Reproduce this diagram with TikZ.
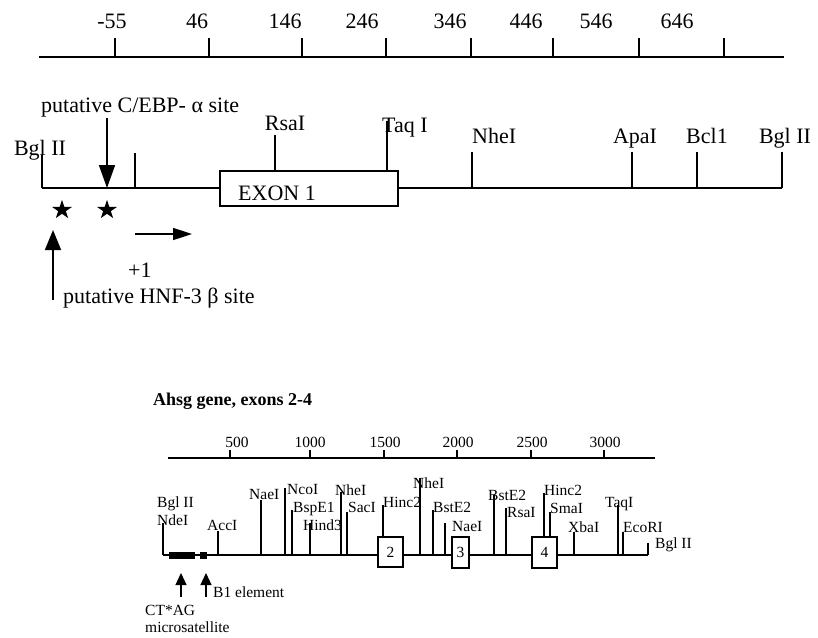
\documentclass[tikz,border=0pt]{standalone}
\usepackage{fontspec}
\setmainfont{Liberation Serif}
\usetikzlibrary{arrows.meta}
\begin{document}
\begin{tikzpicture}[x=1pt,y=-1pt,
  toplbl/.style={inner sep=0pt,font=\fontsize{22}{26}\selectfont},
  botlbl/.style={inner sep=0pt,font=\fontsize{15.5}{18}\selectfont},
  titlelbl/.style={inner sep=0pt,font=\fontsize{18}{21}\selectfont\bfseries},
  topline/.style={line width=1.6pt},
  botline/.style={line width=1.1pt}]
\useasboundingbox (0,0) rectangle (818,637);

% ---------- top scale ----------
\draw[topline] (39,57) -- (784,57);
\foreach \x in {115,209,302,386,471,553,639,724}
  \draw[topline] (\x,38) -- (\x,57);
\foreach \x/\t [count=\i] in {112/-55,197/46,285/146,362/246,450/346,526/446,596/546,677/646}
  \node[toplbl,anchor=base] (sc\i) at (\x,28) {\t};

% ---------- exon 1 map ----------
\draw[topline] (42,188) -- (220,188);
\draw[topline] (398,188) -- (782,188);
\draw[topline] (220,171) rectangle (398,206);
\node[toplbl,anchor=base west] (exon1) at (238,200) {EXON 1};

\draw[topline] (42,155) -- (42,188);
\node[toplbl,anchor=base] (bglA) at (40,155) {Bgl II};
\draw[topline] (135,153) -- (135,188);

\node[toplbl,anchor=base west] (cebp) at (41,112) {putative C/EBP- α site};
\draw[topline,-{Triangle[length=23pt,width=16pt]}] (107,118) -- (107,188);

\foreach \sx in {62,107}
  \fill[shift={(\sx,210)},xscale=1.05] (-90:10) -- (-54:3.82) -- (-18:10) -- (18:3.82) -- (54:10)
     -- (90:3.82) -- (126:10) -- (162:3.82) -- (198:10) -- (234:3.82) -- cycle;

\draw[topline,-{Triangle[length=20pt,width=16pt]}] (53,300) -- (53,230);
\node[toplbl,anchor=base west] (hnf) at (63,303) {putative HNF-3 β site};

\draw[topline,-{Triangle[length=19pt,width=12pt]}] (135,234) -- (192,234);
\node[toplbl,anchor=base west] (plus1) at (128,277) {+1};

\draw[topline] (275,135) -- (275,171);
\node[toplbl,anchor=base] (rsaA) at (285,130) {RsaI};
\draw[topline] (387,121) -- (387,171);
\node[toplbl,anchor=base west] (taqA) at (382,132) {Taq I};
\draw[topline] (472,152) -- (472,188);
\node[toplbl,anchor=base west] (nheA) at (472,143) {NheI};
\draw[topline] (632,152) -- (632,188);
\node[toplbl,anchor=base] (apaA) at (635,143) {ApaI};
\draw[topline] (697,152) -- (697,188);
\node[toplbl,anchor=base] (bclA) at (707,143) {Bcl1};
\draw[topline] (782,152) -- (782,188);
\node[toplbl,anchor=base] (bglB) at (785,143) {Bgl II};

% ---------- bottom: exons 2-4 ----------
\node[titlelbl,anchor=base west] (title) at (153,405) {Ahsg gene, exons 2-4};

\draw[botline] (168,458) -- (655,458);
\foreach \x in {230,310,384,457,531,604}
  \draw[botline] (\x,450) -- (\x,458);
\foreach \x/\t [count=\i] in {237/500,310/1000,385/1500,458/2000,532/2500,605/3000}
  \node[botlbl,anchor=base] (bs\i) at (\x,447) {\t};

\draw[botline] (163,555) -- (648,555);
\fill (169,552) rectangle (195,559);
\fill (200,552) rectangle (207,559);

\draw[botline,fill=white] (378,537) rectangle (403,567);
\node[botlbl] (ex2) at (390.5,552) {2};
\draw[botline,fill=white] (452,537) rectangle (469,568);
\node[botlbl] (ex3) at (460.5,552.5) {3};
\draw[botline,fill=white] (532,537) rectangle (557,568);
\node[botlbl] (ex4) at (544.5,552.5) {4};

\draw[botline,-{Triangle[length=12pt,width=11pt]}] (181,597) -- (181,573);
\draw[botline,-{Triangle[length=12pt,width=11pt]}] (206,597) -- (206,573);
\node[botlbl,anchor=base west] (b1) at (213,597) {B1 element};
\node[botlbl,anchor=base west] (ctag) at (145,615) {CT*AG};
\node[botlbl,anchor=base west] (micro) at (145,632) {microsatellite};

% sites
\draw[botline] (163,523) -- (163,555);
\node[botlbl,anchor=base west] (bglC) at (157,507) {Bgl II};
\node[botlbl,anchor=base west] (nde) at (157,525) {NdeI};
\draw[botline] (218,531) -- (218,555);
\node[botlbl,anchor=base west] (acc) at (207,530) {AccI};
\draw[botline] (261,500) -- (261,555);
\node[botlbl,anchor=base west] (naeA) at (249,499) {NaeI};
\draw[botline] (285,488) -- (285,555);
\node[botlbl,anchor=base west] (nco) at (287,494) {NcoI};
\draw[botline] (292,510) -- (292,555);
\node[botlbl,anchor=base west] (bsp) at (293,512) {BspE1};
\draw[botline] (310,523) -- (310,555);
\node[botlbl,anchor=base west] (hind) at (303,530) {Hind3};
\draw[botline] (341,492) -- (341,555);
\node[botlbl,anchor=base west] (nheB) at (335,495) {NheI};
\draw[botline] (347,512) -- (347,555);
\node[botlbl,anchor=base west] (sac) at (348,512) {SacI};
\draw[botline] (383,505) -- (383,537);
\node[botlbl,anchor=base west] (hincA) at (383,507) {Hinc2};
\draw[botline] (420,478) -- (420,555);
\node[botlbl,anchor=base west] (nheC) at (413,488) {NheI};
\draw[botline] (433,510) -- (433,555);
\node[botlbl,anchor=base west] (bstA) at (433,512) {BstE2};
\draw[botline] (445,523) -- (445,555);
\node[botlbl,anchor=base west] (naeB) at (452,531) {NaeI};
\draw[botline] (494,495) -- (494,555);
\node[botlbl,anchor=base west] (bstB) at (488,500) {BstE2};
\draw[botline] (506,508) -- (506,555);
\node[botlbl,anchor=base west] (rsaB) at (507,517) {RsaI};
\draw[botline] (544,493) -- (544,537);
\node[botlbl,anchor=base west] (hincB) at (544,495) {Hinc2};
\draw[botline] (550,512) -- (550,537);
\node[botlbl,anchor=base west] (sma) at (550,513) {SmaI};
\draw[botline] (574,532) -- (574,555);
\node[botlbl,anchor=base west] (xba) at (568,532) {XbaI};
\draw[botline] (618,505) -- (618,555);
\node[botlbl,anchor=base west] (taqB) at (605,507) {TaqI};
\draw[botline] (623,532) -- (623,555);
\node[botlbl,anchor=base west] (eco) at (623,532) {EcoRI};
\draw[botline] (648,543) -- (648,555);
\node[botlbl,anchor=base west] (bglD) at (655,548) {Bgl II};
\end{tikzpicture}
\end{document}
